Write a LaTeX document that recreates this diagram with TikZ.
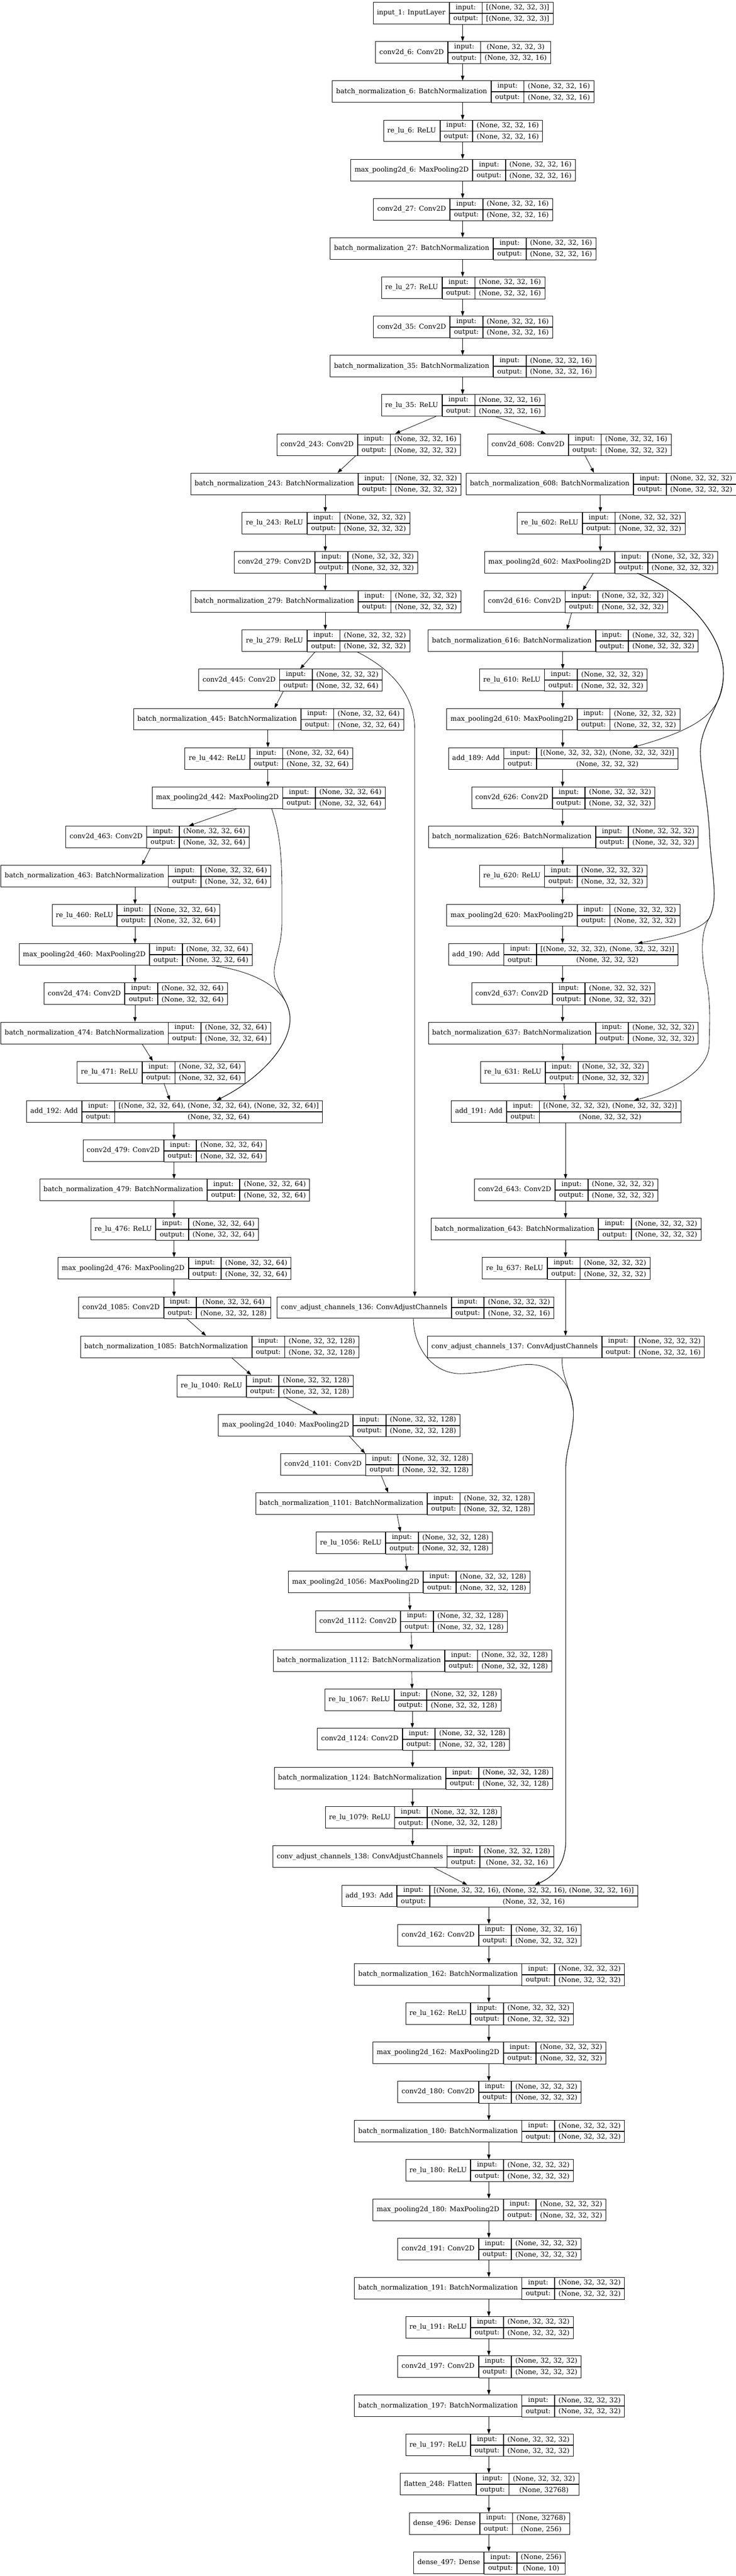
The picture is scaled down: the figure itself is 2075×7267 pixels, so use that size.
\documentclass[tikz,border=0pt]{standalone}
\usepackage{fontspec}
\setmainfont{DejaVu Serif}
\usetikzlibrary{arrows.meta}
\newcommand\lfont{\fontsize{19}{22.8}\selectfont}
\def\padx{10.67pt}
\def\Siii{(None, 32, 32, 3)}
\def\Sxvi{(None, 32, 32, 16)}
\def\Sxxxii{(None, 32, 32, 32)}
\def\Slxiv{(None, 32, 32, 64)}
\def\Scxxviii{(None, 32, 32, 128)}
\newlength\lyrwn \newlength\lyrwa \newlength\lyrwb \newlength\lyrwio \newlength\lyrtmp
\newcommand\lyrmeas[3]{%
  \settowidth\lyrtmp{#1}\global\lyrwn=\lyrtmp\relax
  \settowidth\lyrtmp{#2}\global\lyrwa=\lyrtmp\relax
  \settowidth\lyrtmp{#3}\global\lyrwb=\lyrtmp\relax
  \settowidth\lyrtmp{output:}\global\lyrwio=\lyrtmp\relax}
\newcommand\lyr[6]{%
  \path (0,0) node[font=\lfont, inner sep=0pt] {\lyrmeas{#4}{#5}{#6}};
  \ifdim\lyrwb>\lyrwa \global\lyrwa=\lyrwb\relax\fi
  \pgfmathsetmacro\lyrL{#2-0.5*(\lyrwn+\lyrwio+\lyrwa)-3*\padx}%
  \pgfmathsetmacro\lyrT{6+110.65*#3}%
  \node[namecell, minimum width=\lyrwn+2*\padx] (#1) at (\lyrL,\lyrT) {#4};
  \node[cell, minimum width=\lyrwio+2*\padx] (#1-i) at (#1.north east) {input:};
  \node[cell, minimum width=\lyrwio+2*\padx] (#1-o) at (#1-i.south west) {output:};
  \node[cell, minimum width=\lyrwa+2*\padx] (#1-vi) at (#1-i.north east) {#5};
  \node[cell, minimum width=\lyrwa+2*\padx] (#1-vo) at (#1-vi.south west) {#6};
}
\newcommand\ed[4]{\draw[arr] (#1.south -| #2,0) -- (#3.north -| #4,0);}
\newcommand\edv[3]{\draw[arr] (#1.south -| #3,0) -- (#2.north -| #3,0);}
\tikzset{
  namecell/.style={draw, line width=1.2pt, inner sep=0pt, minimum height=61pt, anchor=north west, font=\lfont},
  cell/.style={draw, line width=1.2pt, inner sep=0pt, minimum height=30.5pt, anchor=north west, font=\lfont},
  arr/.style={line width=1.2pt, -{Triangle[length=13.5pt,width=9.5pt]}}
}
\begin{document}
\begin{tikzpicture}[x=1pt,y=-1pt]
\fill[white] (0,0) rectangle (2075,7267);
\useasboundingbox (0,0) rectangle (2075,7267);
% top chain
\lyr{in1}{1304}{0}{input\_1: InputLayer}{[\Siii]}{[\Siii]}
\lyr{c6}{1304}{1}{conv2d\_6: Conv2D}{\Siii}{\Sxvi}
\lyr{bn6}{1304}{2}{batch\_normalization\_6: BatchNormalization}{\Sxvi}{\Sxvi}
\lyr{r6}{1304}{3}{re\_lu\_6: ReLU}{\Sxvi}{\Sxvi}
\lyr{mp6}{1304}{4}{max\_pooling2d\_6: MaxPooling2D}{\Sxvi}{\Sxvi}
\lyr{c27}{1304}{5}{conv2d\_27: Conv2D}{\Sxvi}{\Sxvi}
\lyr{bn27}{1304}{6}{batch\_normalization\_27: BatchNormalization}{\Sxvi}{\Sxvi}
\lyr{r27}{1304}{7}{re\_lu\_27: ReLU}{\Sxvi}{\Sxvi}
\lyr{c35}{1304}{8}{conv2d\_35: Conv2D}{\Sxvi}{\Sxvi}
\lyr{bn35}{1304}{9}{batch\_normalization\_35: BatchNormalization}{\Sxvi}{\Sxvi}
\lyr{r35}{1304}{10}{re\_lu\_35: ReLU}{\Sxvi}{\Sxvi}
% left branch
\lyr{c243}{1037.5}{11}{conv2d\_243: Conv2D}{\Sxvi}{\Sxxxii}
\lyr{bn243}{917}{12}{batch\_normalization\_243: BatchNormalization}{\Sxxxii}{\Sxxxii}
\lyr{r243}{917.2}{13}{re\_lu\_243: ReLU}{\Sxxxii}{\Sxxxii}
\lyr{c279}{917.5}{14}{conv2d\_279: Conv2D}{\Sxxxii}{\Sxxxii}
\lyr{bn279}{917}{15}{batch\_normalization\_279: BatchNormalization}{\Sxxxii}{\Sxxxii}
\lyr{r279}{917.2}{16}{re\_lu\_279: ReLU}{\Sxxxii}{\Sxxxii}
\lyr{c445}{817.3}{17}{conv2d\_445: Conv2D}{\Sxxxii}{\Slxiv}
\lyr{bn445}{755.6}{18}{batch\_normalization\_445: BatchNormalization}{\Slxiv}{\Slxiv}
\lyr{r442}{756}{19}{re\_lu\_442: ReLU}{\Slxiv}{\Slxiv}
\lyr{mp442}{756}{20}{max\_pooling2d\_442: MaxPooling2D}{\Slxiv}{\Slxiv}
\lyr{c463}{442.4}{21}{conv2d\_463: Conv2D}{\Slxiv}{\Slxiv}
\lyr{bn463}{381.4}{22}{batch\_normalization\_463: BatchNormalization}{\Slxiv}{\Slxiv}
\lyr{r460}{381.5}{23}{re\_lu\_460: ReLU}{\Slxiv}{\Slxiv}
\lyr{mp460}{380.7}{24}{max\_pooling2d\_460: MaxPooling2D}{\Slxiv}{\Slxiv}
\lyr{c474}{381.1}{25}{conv2d\_474: Conv2D}{\Slxiv}{\Slxiv}
\lyr{bn474}{381.4}{26}{batch\_normalization\_474: BatchNormalization}{\Slxiv}{\Slxiv}
\lyr{r471}{452.1}{27}{re\_lu\_471: ReLU}{\Slxiv}{\Slxiv}
\lyr{a192}{490.5}{28}{add\_192: Add}{[\Slxiv, \Slxiv, \Slxiv]}{\Slxiv}
\lyr{c479}{490.8}{29}{conv2d\_479: Conv2D}{\Slxiv}{\Slxiv}
\lyr{bn479}{490.9}{30}{batch\_normalization\_479: BatchNormalization}{\Slxiv}{\Slxiv}
\lyr{r476}{490.5}{31}{re\_lu\_476: ReLU}{\Slxiv}{\Slxiv}
\lyr{mp476}{490.5}{32}{max\_pooling2d\_476: MaxPooling2D}{\Slxiv}{\Slxiv}
\lyr{c1085}{490.5}{33}{conv2d\_1085: Conv2D}{\Slxiv}{\Scxxviii}
\lyr{bn1085}{617.5}{34}{batch\_normalization\_1085: BatchNormalization}{\Scxxviii}{\Scxxviii}
\lyr{r1040}{745.5}{35}{re\_lu\_1040: ReLU}{\Scxxviii}{\Scxxviii}
\lyr{mp1040}{954.6}{36}{max\_pooling2d\_1040: MaxPooling2D}{\Scxxviii}{\Scxxviii}
\lyr{c1101}{1060}{37}{conv2d\_1101: Conv2D}{\Scxxviii}{\Scxxviii}
\lyr{bn1101}{1111.8}{38}{batch\_normalization\_1101: BatchNormalization}{\Scxxviii}{\Scxxviii}
\lyr{r1056}{1138.4}{39}{re\_lu\_1056: ReLU}{\Scxxviii}{\Scxxviii}
\lyr{mp1056}{1152.2}{40}{max\_pooling2d\_1056: MaxPooling2D}{\Scxxviii}{\Scxxviii}
\lyr{c1112}{1158.7}{41}{conv2d\_1112: Conv2D}{\Scxxviii}{\Scxxviii}
\lyr{bn1112}{1161.2}{42}{batch\_normalization\_1112: BatchNormalization}{\Scxxviii}{\Scxxviii}
\lyr{r1067}{1162.4}{43}{re\_lu\_1067: ReLU}{\Scxxviii}{\Scxxviii}
\lyr{c1124}{1163.8}{44}{conv2d\_1124: Conv2D}{\Scxxviii}{\Scxxviii}
\lyr{bn1124}{1164.2}{45}{batch\_normalization\_1124: BatchNormalization}{\Scxxviii}{\Scxxviii}
\lyr{r1079}{1163.7}{46}{re\_lu\_1079: ReLU}{\Scxxviii}{\Scxxviii}
\lyr{ca138}{1164.2}{47}{conv\_adjust\_channels\_138: ConvAdjustChannels}{\Scxxviii}{\Sxvi}
\lyr{ca136}{1169.9}{33}{conv\_adjust\_channels\_136: ConvAdjustChannels}{\Sxxxii}{\Sxvi}
% right branch
\lyr{c608}{1632}{11}{conv2d\_608: Conv2D}{\Sxvi}{\Sxxxii}
\lyr{bn608}{1693.3}{12}{batch\_normalization\_608: BatchNormalization}{\Sxxxii}{\Sxxxii}
\lyr{r602}{1693.3}{13}{re\_lu\_602: ReLU}{\Sxxxii}{\Sxxxii}
\lyr{mp602}{1693.2}{14}{max\_pooling2d\_602: MaxPooling2D}{\Sxxxii}{\Sxxxii}
\lyr{c616}{1622.4}{15}{conv2d\_616: Conv2D}{\Sxxxii}{\Sxxxii}
\lyr{bn616}{1586.4}{16}{batch\_normalization\_616: BatchNormalization}{\Sxxxii}{\Sxxxii}
\lyr{r610}{1586.6}{17}{re\_lu\_610: ReLU}{\Sxxxii}{\Sxxxii}
\lyr{mp610}{1586.6}{18}{max\_pooling2d\_610: MaxPooling2D}{\Sxxxii}{\Sxxxii}
\lyr{a189}{1586.5}{19}{add\_189: Add}{[\Sxxxii, \Sxxxii]}{\Sxxxii}
\lyr{c626}{1586.6}{20}{conv2d\_626: Conv2D}{\Sxxxii}{\Sxxxii}
\lyr{bn626}{1586.6}{21}{batch\_normalization\_626: BatchNormalization}{\Sxxxii}{\Sxxxii}
\lyr{r620}{1586.6}{22}{re\_lu\_620: ReLU}{\Sxxxii}{\Sxxxii}
\lyr{mp620}{1586.6}{23}{max\_pooling2d\_620: MaxPooling2D}{\Sxxxii}{\Sxxxii}
\lyr{a190}{1586.5}{24}{add\_190: Add}{[\Sxxxii, \Sxxxii]}{\Sxxxii}
\lyr{c637}{1586.6}{25}{conv2d\_637: Conv2D}{\Sxxxii}{\Sxxxii}
\lyr{bn637}{1586.6}{26}{batch\_normalization\_637: BatchNormalization}{\Sxxxii}{\Sxxxii}
\lyr{r631}{1589.2}{27}{re\_lu\_631: ReLU}{\Sxxxii}{\Sxxxii}
\lyr{a191}{1594.5}{28}{add\_191: Add}{[\Sxxxii, \Sxxxii]}{\Sxxxii}
\lyr{c643}{1594.5}{30}{conv2d\_643: Conv2D}{\Sxxxii}{\Sxxxii}
\lyr{bn643}{1594.4}{31}{batch\_normalization\_643: BatchNormalization}{\Sxxxii}{\Sxxxii}
\lyr{r637}{1594.5}{32}{re\_lu\_637: ReLU}{\Sxxxii}{\Sxxxii}
\lyr{ca137}{1594.5}{34}{conv\_adjust\_channels\_137: ConvAdjustChannels}{\Sxxxii}{\Sxvi}
% lower chain
\lyr{a193}{1379}{48}{add\_193: Add}{[\Sxvi, \Sxvi, \Sxvi]}{\Sxvi}
\lyr{c162}{1378.5}{49}{conv2d\_162: Conv2D}{\Sxvi}{\Sxxxii}
\lyr{bn162}{1378.5}{50}{batch\_normalization\_162: BatchNormalization}{\Sxxxii}{\Sxxxii}
\lyr{r162}{1378.5}{51}{re\_lu\_162: ReLU}{\Sxxxii}{\Sxxxii}
\lyr{mp162}{1378.5}{52}{max\_pooling2d\_162: MaxPooling2D}{\Sxxxii}{\Sxxxii}
\lyr{c180}{1378.5}{53}{conv2d\_180: Conv2D}{\Sxxxii}{\Sxxxii}
\lyr{bn180}{1378.5}{54}{batch\_normalization\_180: BatchNormalization}{\Sxxxii}{\Sxxxii}
\lyr{r180}{1378.5}{55}{re\_lu\_180: ReLU}{\Sxxxii}{\Sxxxii}
\lyr{mp180}{1378.5}{56}{max\_pooling2d\_180: MaxPooling2D}{\Sxxxii}{\Sxxxii}
\lyr{c191}{1378.5}{57}{conv2d\_191: Conv2D}{\Sxxxii}{\Sxxxii}
\lyr{bn191}{1378.5}{58}{batch\_normalization\_191: BatchNormalization}{\Sxxxii}{\Sxxxii}
\lyr{r191}{1378.5}{59}{re\_lu\_191: ReLU}{\Sxxxii}{\Sxxxii}
\lyr{c197}{1378.5}{60}{conv2d\_197: Conv2D}{\Sxxxii}{\Sxxxii}
\lyr{bn197}{1378.5}{61}{batch\_normalization\_197: BatchNormalization}{\Sxxxii}{\Sxxxii}
\lyr{r197}{1378.5}{62}{re\_lu\_197: ReLU}{\Sxxxii}{\Sxxxii}
\lyr{fl}{1378.5}{63}{flatten\_248: Flatten}{\Sxxxii}{(None, 32768)}
\lyr{d496}{1378.5}{64}{dense\_496: Dense}{(None, 32768)}{(None, 256)}
\lyr{d497}{1378.5}{65}{dense\_497: Dense}{(None, 256)}{(None, 10)}
% ---- connectors ----
\edv{in1}{c6}{1304.6}
\edv{c6}{bn6}{1304.6}
\edv{bn6}{r6}{1304.6}
\edv{r6}{mp6}{1304.6}
\edv{mp6}{c27}{1304.6}
\edv{c27}{bn27}{1304.6}
\edv{bn27}{r27}{1304.6}
\edv{r27}{c35}{1304.6}
\edv{c35}{bn35}{1304.6}
\edv{bn35}{r35}{1304.6}
\ed{r35}{1229.3}{c243}{1114.6}
\ed{r35}{1395.2}{c608}{1539}
\ed{c243}{1003.6}{bn243}{951.8}
\edv{bn243}{r243}{917.3}
\edv{r243}{c279}{917.3}
\edv{c279}{bn279}{917.3}
\edv{bn279}{r279}{917.3}
\ed{r279}{888.8}{c445}{846.4}
\draw[arr] (r279.south -| 1006,0) .. controls (1090,1880) and (1169.6,1950) .. (1169.6,2060) -- (ca136.north -| 1169.6,0);
\ed{c445}{799.3}{bn445}{774}
\edv{bn445}{r442}{755.5}
\edv{r442}{mp442}{755.5}
\ed{mp442}{668.6}{c463}{532.6}
\draw[arr] (mp442.south -| 766,0) .. controls (790,2350) and (795,2420) .. (795,2520) -- (795,2600) .. controls (795,2680) and (765,2720) .. (775,2760) .. controls (785,2800) and (818,2830) .. (818,2876) .. controls (816,2960) and (720,3050) .. (a192.north -| 610.2,0);
\ed{c463}{424.5}{bn463}{400}
\edv{bn463}{r460}{380.7}
\edv{r460}{mp460}{380.7}
\edv{mp460}{c474}{380.7}
\edv{c474}{bn474}{380.7}
\draw[arr] (mp460.south -| 602.3,0) .. controls (740,2745) and (818,2800) .. (818,2876) .. controls (816,2960) and (720,3050) .. (a192.north -| 610.2,0);
\ed{bn474}{400.6}{r471}{431}
\ed{r471}{462.3}{a192}{479}
\edv{a192}{c479}{490.8}
\edv{c479}{bn479}{490.8}
\edv{bn479}{r476}{490.8}
\edv{r476}{mp476}{490.8}
\edv{mp476}{c1085}{490.8}
\ed{c1085}{526}{bn1085}{581}
\ed{bn1085}{653.4}{r1040}{708.4}
\ed{r1040}{802.6}{mp1040}{895.5}
\ed{mp1040}{985}{c1101}{1029.5}
\ed{c1101}{1074.8}{bn1101}{1094.7}
\ed{bn1101}{1119.8}{r1056}{1129.2}
\ed{r1056}{1143}{mp1056}{1147.4}
\ed{mp1056}{1154}{c1112}{1156}
\ed{c1112}{1159.8}{bn1112}{1160.5}
\ed{bn1112}{1161}{r1067}{1162}
\edv{r1067}{c1124}{1162.7}
\edv{c1124}{bn1124}{1163.4}
\edv{bn1124}{r1079}{1163.4}
\edv{r1079}{ca138}{1163.4}
\ed{ca138}{1223.7}{a193}{1317.5}
% right branch connectors
\ed{c608}{1650}{bn608}{1675}
\edv{bn608}{r602}{1693}
\edv{r602}{mp602}{1693}
\ed{mp602}{1673}{c616}{1643}
\ed{c616}{1612}{bn616}{1598.8}
\edv{bn616}{r610}{1586.9}
\edv{r610}{mp610}{1586.9}
\edv{mp610}{a189}{1586.9}
\edv{a189}{c626}{1586.4}
\edv{c626}{bn626}{1586.4}
\edv{bn626}{r620}{1586.4}
\edv{r620}{mp620}{1586.4}
\edv{mp620}{a190}{1586.4}
\edv{a190}{c637}{1586.4}
\edv{c637}{bn637}{1586.4}
\ed{bn637}{1586.2}{r631}{1587.5}
\ed{r631}{1590.8}{a191}{1592.8}
\edv{a191}{c643}{1594.8}
\edv{c643}{bn643}{1594.8}
\edv{bn643}{r637}{1594.8}
\edv{r637}{ca137}{1594.8}
\draw[arr] (mp602.south -| 1797.8,0) .. controls (1950,1680) and (2040,1800) .. (2040,1900) .. controls (2040,2000) and (1990,2050) .. (a189.north -| 1784.5,0);
\draw[arr] (mp602.south -| 1797.8,0) .. controls (1950,1680) and (2040,1800) .. (2040,1900) .. controls (2040,1990) and (1975,2040) .. (1975,2120) .. controls (1975,2180) and (1998,2250) .. (2002,2380) .. controls (2010,2480) and (2025,2540) .. (2000,2590) .. controls (1970,2630) and (1880,2645) .. (a190.north -| 1797.8,0);
\draw[arr] (mp602.south -| 1797.8,0) .. controls (1950,1680) and (2040,1800) .. (2040,1900) .. controls (2040,1990) and (1975,2040) .. (1975,2120) .. controls (1975,2180) and (1998,2250) .. (2002,2380) .. controls (2010,2480) and (2025,2540) .. (2000,2590) .. controls (1975,2630) and (1975,2700) .. (1995,2780) .. controls (2005,2850) and (2000,2900) .. (2000,2945) .. controls (2000,3020) and (1900,3075) .. (a191.north -| 1787.8,0);
\draw[arr] (ca136.south -| 1165.7,0) .. controls (1165.7,3800) and (1220,3880) .. (1307,3875) .. controls (1420,3870) and (1460,3840) .. (1520,3852) .. controls (1590,3870) and (1618,3930) .. (1617,3990) .. controls (1616,4050) and (1595.5,4090) .. (1595.5,4140) -- (1595.5,5190) .. controls (1595.5,5260) and (1560,5295) .. (a193.north -| 1508.7,0);
\draw[arr] (ca137.south -| 1585.5,0) .. controls (1580,3880) and (1617,3930) .. (1617,3990) .. controls (1616,4050) and (1595.5,4090) .. (1595.5,4140) -- (1595.5,5190) .. controls (1595.5,5260) and (1560,5295) .. (a193.north -| 1508.7,0);
\edv{a193}{c162}{1378.5}
\edv{c162}{bn162}{1378.5}
\edv{bn162}{r162}{1378.5}
\edv{r162}{mp162}{1378.5}
\edv{mp162}{c180}{1378.5}
\edv{c180}{bn180}{1378.5}
\edv{bn180}{r180}{1378.5}
\edv{r180}{mp180}{1378.5}
\edv{mp180}{c191}{1378.5}
\edv{c191}{bn191}{1378.5}
\edv{bn191}{r191}{1378.5}
\edv{r191}{c197}{1378.5}
\edv{c197}{bn197}{1378.5}
\edv{bn197}{r197}{1378.5}
\edv{r197}{fl}{1378.5}
\edv{fl}{d496}{1378.5}
\edv{d496}{d497}{1378.5}
\end{tikzpicture}
\end{document}
